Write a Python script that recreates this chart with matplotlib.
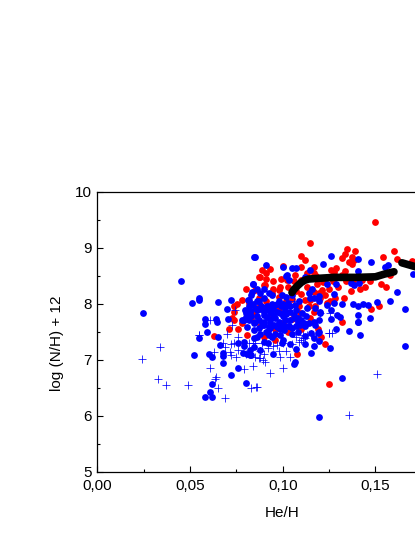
import matplotlib
matplotlib.use("Agg")
import matplotlib.pyplot as plt
from matplotlib.ticker import FuncFormatter, MultipleLocator

plt.rcParams['font.family'] = ['Liberation Sans', 'DejaVu Sans']

blue_x = [0.0248,0.045,0.051,0.0549,0.0549,0.065,0.072,0.070,0.0583,0.0583,0.0642,0.0647,0.0843,0.0838,0.083,0.0813,0.083,0.08,0.0825,0.078,0.0707,
 0.059,0.055,0.065,0.066,0.052,0.060,0.062,0.068,0.068,0.068,0.076,0.072,0.062,0.061,0.058,0.062,0.080,0.076,0.079,0.079,0.0786,0.081,0.083,0.0825,0.0843,
 0.1658,0.132,0.1197,0.1418,0.1357,0.129,0.1404,0.1257,0.115,0.1068,0.1059,0.107,0.095,0.1167,0.1118,0.104,0.0996,0.0919,0.1194,0.115,0.119,0.1167,0.0924,0.0987,0.105,0.1005,0.0933,0.086,0.0843,0.0825,0.088,
 0.0848,0.091,0.0999,0.105,0.107,0.1149,0.122,0.1258,0.1406,0.1478,0.155,0.1568,0.1408,0.1703,0.1118,0.102,0.1032,0.1239,0.1289,0.1383,0.141,0.137,0.1158,0.1275,0.1149,0.1197,0.1197,0.1275,0.1239,0.126,0.132,0.1379,0.1404,0.1431,0.1458,0.1509,0.1579,0.1618,0.1658,0.1408,0.1469,0.1408,0.1293,0.1307,0.126,0.1203,0.1194,0.1113,0.1167,
 0.084,0.086,0.0834,0.0816,0.087,0.088,0.0897,0.0798,0.0825,0.0861,0.0816,0.0843,0.087,0.0897,0.0789,0.0843,0.087,0.0897,0.0807,
 0.0915,0.0933,0.096,0.0987,0.1014,0.104,0.1068,0.1086,0.105,0.1104,0.1131,0.1023,0.0996,0.1068,0.1014,0.096,0.0933,0.0915,0.1095,0.114,0.1167,0.1176,0.1203,0.1176,0.1194,0.114,0.105,0.0996,0.0951,0.0924,
 0.090,0.094,0.098,0.102,0.086,0.090,0.094,0.099,0.103,0.107,0.098,0.102,0.090,0.086,0.092,0.096,0.088,0.100,0.104,0.108,0.112,0.0969,0.0905,0.0945,0.0985,0.1035,0.1085,0.1125,0.0885,0.0925,
 0.082,0.085,0.088,0.091,0.093,0.095,0.097,0.100,0.101,0.104,0.106,0.108,0.110,0.112,0.083,0.085,0.089,0.093,0.097,0.100,0.103,0.107,0.084,0.080,0.091,0.094,0.100,0.090]
blue_y = [7.83,8.40,8.01,8.10,8.06,8.03,8.07,7.90,7.72,7.64,7.72,7.67,8.83,8.36,8.15,8.07,7.98,7.84,7.87,7.71,7.73,
 7.49,7.38,7.40,7.27,7.09,7.10,7.04,7.12,7.07,6.94,6.85,6.73,6.57,6.43,6.33,6.33,6.58,7.29,7.32,7.25,7.12,7.11,7.08,7.17,7.39,
 7.25,6.68,5.98,7.44,7.51,7.55,7.68,7.21,7.12,6.96,6.93,7.19,7.10,7.24,7.28,7.28,7.30,7.30,7.34,7.47,7.47,7.38,7.44,7.44,7.46,7.53,7.56,7.41,7.23,7.08,7.17,
 8.83,8.69,8.66,8.63,8.64,8.61,8.71,8.85,8.79,8.74,8.66,8.69,8.59,8.53,8.48,8.50,8.42,8.35,8.36,8.33,8.37,8.37,8.26,8.17,8.11,8.14,8.04,8.02,7.98,7.89,7.99,8.00,7.96,8.00,7.98,8.03,8.05,8.21,7.90,7.80,7.75,7.68,7.79,7.77,7.73,7.86,7.71,7.65,7.68,
 8.36,8.27,8.21,8.07,8.04,8.19,8.27,7.89,7.86,7.89,7.71,7.65,7.71,7.80,7.71,7.53,7.56,7.62,7.59,
 7.95,7.86,7.98,7.83,7.95,7.86,7.98,8.04,8.16,7.83,7.92,8.51,8.16,7.74,7.71,7.74,7.71,7.77,7.62,8.19,8.10,7.92,7.83,7.62,7.50,7.65,7.56,7.59,7.62,7.59,
 8.10,8.15,8.05,8.12,8.05,7.85,8.00,7.95,8.02,7.88,7.68,7.82,7.68,7.78,7.52,7.45,7.45,7.62,7.70,7.50,7.42,7.86,7.92,7.80,7.55,7.60,7.68,7.78,7.95,8.20,
 7.95,7.92,7.90,7.90,7.95,7.90,8.00,8.00,7.88,7.95,7.80,7.75,7.70,7.60,7.78,7.68,7.62,7.66,7.58,7.78,7.60,7.60,8.00,7.77,7.50,7.40,7.35,7.32]

red_x = [0.150,0.1149,0.1347,0.1388,0.1334,0.132,0.1099,0.1118,0.1373,0.1382,0.136,0.1373,0.1598,0.1618,0.154,0.170,0.1099,0.1167,0.1167,0.0999,0.091,0.0879,0.091,0.0948,0.0906,0.0987,0.095,0.0978,0.1068,0.1023,
 0.1262,0.1289,0.1275,0.1338,0.1212,0.1257,0.132,0.1131,0.1185,0.1212,0.1248,0.1167,0.137,0.1418,0.1445,0.153,0.1559,0.1577,0.1329,0.1257,0.1478,0.152,0.1176,0.1167,0.1095,0.132,0.1149,0.123,0.1194,0.1149,
 0.1248,0.1077,0.123,0.1208,0.1095,
 0.0804,0.0753,0.0735,0.074,0.0708,0.0807,0.0627,0.078,0.087,0.0897,0.0726,
 0.094,0.102,0.107,0.112,0.088,0.093,0.098,0.100,0.105,0.109,0.088,0.084,0.090,0.096,
 0.106,0.110,0.113,0.118,0.122,0.127,0.130,0.134,0.138,0.143,0.147,0.103,0.099,0.093,0.089,0.085,0.087,0.105,0.110,0.115,0.120,0.124,0.128,0.098,0.091,0.083,0.078,0.074,0.082,0.076,0.114,0.119,0.110,0.103,0.096]
red_y = [9.46,9.08,8.98,8.95,8.89,8.81,8.85,8.78,8.83,8.78,8.75,8.71,8.95,8.79,8.84,8.76,8.66,8.66,8.54,8.67,8.54,8.48,8.45,8.41,8.33,8.30,8.27,8.24,8.51,8.42,
 8.61,8.63,8.57,8.59,8.46,8.48,8.51,8.30,8.36,8.24,8.27,8.21,8.23,8.27,8.29,8.35,8.29,8.51,8.11,8.05,7.90,7.96,7.95,7.86,7.83,7.68,7.74,8.16,8.19,8.07,
 6.57,7.11,7.28,7.40,7.56,
 8.26,7.99,7.96,7.70,7.54,7.44,7.42,8.07,8.48,8.33,7.74,
 8.20,8.05,8.22,8.06,7.98,7.75,7.90,7.65,7.73,7.95,7.60,7.85,7.40,7.35,
 8.40,8.42,8.55,8.50,8.38,8.40,8.30,8.40,8.40,8.42,8.40,8.30,8.45,8.62,8.60,8.25,8.10,8.08,8.18,8.22,8.10,8.02,8.10,8.12,8.05,7.75,7.65,7.85,8.02,7.55,7.95,7.55,7.55,7.50,7.55]

cross_x = [0.024,0.034,0.033,0.037,0.049,0.061,0.064,0.0635,0.065,0.069,0.0546,0.063,0.069,0.0714,0.072,0.0735,0.0793,0.0838,0.083,0.068,0.084,
 0.093,0.0999,0.0858,0.151,0.1356,0.125,0.109,0.111,0.1037,0.102,0.0987,0.097,0.090,0.0894,0.0906,0.0875,0.0888,
 0.061,0.0744,0.0726,0.055,0.0897,0.120,0.1257,0.1248,0.1265,0.111,0.113,0.0976,0.106,0.100,
 0.072,0.0816,0.0852,0.0864,0.087,0.110,0.112,
 0.092,0.095,0.098,0.100,0.088,0.085,0.080,0.076,0.075,0.070,0.076,0.105,0.107,0.115]
cross_y = [7.01,7.23,6.66,6.54,6.55,6.86,6.69,6.65,6.49,6.32,7.44,7.13,7.22,7.14,7.08,7.30,6.84,6.89,6.50,7.29,7.30,
 6.76,6.85,6.52,6.74,6.01,7.47,7.32,7.38,7.05,7.16,7.05,7.26,7.11,7.00,6.96,7.03,7.29,
 7.70,7.89,7.62,7.44,7.92,7.83,7.83,7.47,7.48,7.44,7.44,8.03,8.05,7.83,
 7.28,7.29,7.29,6.52,7.03,7.35,7.38,
 7.20,7.25,7.15,7.30,7.15,7.05,7.10,7.18,7.05,7.45,7.40,7.28,7.40,7.45]

line1_x = [0.105,0.106,0.108,0.110,0.112,0.114,0.118,0.1275,0.140,0.150,0.155,0.160]
line1_y = [8.20,8.25,8.32,8.38,8.42,8.44,8.45,8.47,8.47,8.48,8.53,8.57]
line2_x = [0.1643,0.1716,0.180]
line2_y = [8.73,8.66,8.60]

fig = plt.figure(figsize=(4.15, 5.37), dpi=100)
ax = fig.add_axes([97.3/415, 1-471.7/537, 370.8/415, 280/537])
ax.set_xlim(0, 0.2)
ax.set_ylim(5, 10)

ax.scatter(red_x, red_y, s=24, c='#ff0000', linewidths=0, zorder=2)
ax.scatter(blue_x, blue_y, s=24, c='#0000ff', linewidths=0, zorder=3)
ax.scatter(cross_x, cross_y, s=36, c='#0000ff', marker='+', linewidths=0.55, zorder=4)
for xs, ys in ((line1_x, line1_y), (line2_x, line2_y)):
    ax.plot(xs, ys, color='black', lw=5.5, solid_capstyle='round', solid_joinstyle='round', zorder=5)

ax.xaxis.set_major_locator(MultipleLocator(0.05))
ax.xaxis.set_minor_locator(MultipleLocator(0.025))
ax.yaxis.set_major_locator(MultipleLocator(1))
ax.yaxis.set_minor_locator(MultipleLocator(0.5))
ax.xaxis.set_major_formatter(FuncFormatter(lambda v, p: f"{v:.2f}".replace('.', ',') if v < 0.16 else ""))
ax.yaxis.set_major_formatter(FuncFormatter(lambda v, p: f"{v:.0f}"))
ax.tick_params(which='major', direction='in', length=4.3, width=0.8, labelsize=11, pad=4)
ax.tick_params(axis='x', which='major', pad=5.5)
ax.tick_params(which='minor', direction='in', length=2.2, width=0.8)
for s in ax.spines.values():
    s.set_linewidth(0.9)

fig.text(282.6/415, 1-513/537, "He/H", fontsize=11, ha='center', va='center')
fig.text(57.5/415, 1-343/537, "log (N/H) + 12", fontsize=11, rotation=90, ha='center', va='center')

fig.savefig("out.png", dpi=100)
